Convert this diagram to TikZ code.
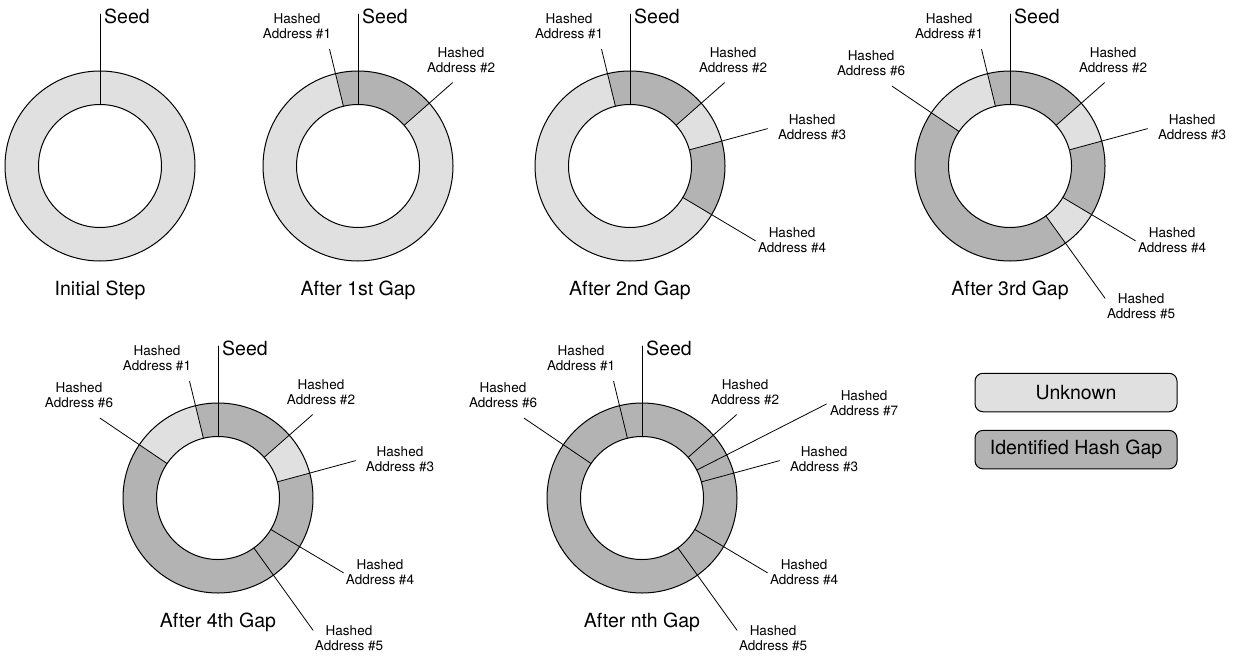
\documentclass[tikz,border=0pt]{standalone}
\usepackage{fontspec}
\setmainfont{TeX Gyre Heros}
\usepackage{tikz}
\usetikzlibrary{positioning}
\definecolor{eqeqeq}{rgb}{0.8784313725490196,0.8784313725490196,0.8784313725490196}
\definecolor{b3b3b3}{rgb}{0.7019607843137254,0.7019607843137254,0.7019607843137254}
\tikzstyle{every node}=[inner sep=0pt]
\tikzstyle{addr}=[font=\fontsize{13.5}{15}\selectfont, align=center]
\tikzstyle{big}=[font=\fontsize{19.5}{22}\selectfont]
\tikzstyle{ring}=[line width=1pt]
\tikzstyle{lead}=[line width=0.8pt]
\tikzstyle{keybox}=[draw, line width=1pt, rounded corners=8pt, minimum width=202pt, minimum height=38.5pt, font=\fontsize{19.5}{22}\selectfont]

\begin{document}
\begin{tikzpicture}[line cap=round,line join=round,x=1pt,y=1pt]
            \clip(0,-656) rectangle (1233,0);
            % Initial Step
            \begin{scope}[shift={(100,-166)}]
            \fill [eqeqeq,even odd rule] (0,0) circle (95) (0,0) circle (61.5);
            \draw [ring] (0,0) circle (95) (0,0) circle (61.5);
            \coordinate (s1) at (90:61.5); \coordinate (s1x) at (90:152);
            \draw [lead] (s1) -- (s1x);
            \node [big,anchor=west] (seed1) at (4,150) {Seed};
            \node [big] (title1) at (0,-124) {Initial Step};
            \end{scope}
            % After 1st Gap
            \begin{scope}[shift={(358,-166)}]
            \fill [eqeqeq,even odd rule] (0,0) circle (95) (0,0) circle (61.5);
            \fill [b3b3b3] (103.7:95) arc [start angle=103.7,end angle=41.4,radius=95] -- (41.4:61.5) arc [start angle=41.4,end angle=103.7,radius=61.5] -- cycle;
            \draw [ring] (0,0) circle (95) (0,0) circle (61.5);
            \coordinate (s2) at (90:61.5); \coordinate (s2x) at (90:152);
            \coordinate (a21) at (103.7:61.5); \coordinate (a21x) at (103.7:120);
            \coordinate (a22) at (41.4:61.5); \coordinate (a22x) at (41.4:126);
            \draw [lead] (s2) -- (s2x);
            \draw [lead] (a21) -- (a21x);
            \draw [lead] (a22) -- (a22x);
            \node [big,anchor=west] (seed2) at (4,150) {Seed};
            \node [addr] (h21) at (-61,140) {Hashed\\Address \#1};
            \node [addr] (h22) at (103,106) {Hashed\\Address \#2};
            \node [big] (title2) at (0,-124) {After 1st Gap};
            \end{scope}
            % After 2nd Gap
            \begin{scope}[shift={(630,-166)}]
            \fill [eqeqeq,even odd rule] (0,0) circle (95) (0,0) circle (61.5);
            \fill [b3b3b3] (103.7:95) arc [start angle=103.7,end angle=41.4,radius=95] -- (41.4:61.5) arc [start angle=41.4,end angle=103.7,radius=61.5] -- cycle;
            \fill [b3b3b3] (15.2:95) arc [start angle=15.2,end angle=-30.8,radius=95] -- (-30.8:61.5) arc [start angle=-30.8,end angle=15.2,radius=61.5] -- cycle;
            \draw [ring] (0,0) circle (95) (0,0) circle (61.5);
            \coordinate (s3) at (90:61.5); \coordinate (s3x) at (90:152);
            \coordinate (a31) at (103.7:61.5); \coordinate (a31x) at (103.7:120);
            \coordinate (a32) at (41.4:61.5); \coordinate (a32x) at (41.4:126);
            \coordinate (a33) at (15.2:61.5); \coordinate (a33x) at (15.2:142.5);
            \coordinate (a34) at (-30.8:61.5); \coordinate (a34x) at (-30.8:146);
            \draw [lead] (s3) -- (s3x);
            \draw [lead] (a31) -- (a31x);
            \draw [lead] (a32) -- (a32x);
            \draw [lead] (a33) -- (a33x);
            \draw [lead] (a34) -- (a34x);
            \node [big,anchor=west] (seed3) at (4,150) {Seed};
            \node [addr] (h31) at (-61,140) {Hashed\\Address \#1};
            \node [addr] (h32) at (103,106) {Hashed\\Address \#2};
            \node [addr] (h33) at (182,39) {Hashed\\Address \#3};
            \node [addr] (h34) at (162,-74) {Hashed\\Address \#4};
            \node [big] (title3) at (0,-124) {After 2nd Gap};
            \end{scope}
            % After 3rd Gap
            \begin{scope}[shift={(1010,-166)}]
            \fill [b3b3b3,even odd rule] (0,0) circle (95) (0,0) circle (61.5);
            \fill [eqeqeq] (41.4:95) arc [start angle=41.4,end angle=15.2,radius=95] -- (15.2:61.5) arc [start angle=15.2,end angle=41.4,radius=61.5] -- cycle;
            \fill [eqeqeq] (-30.8:95) arc [start angle=-30.8,end angle=-54.3,radius=95] -- (-54.3:61.5) arc [start angle=-54.3,end angle=-30.8,radius=61.5] -- cycle;
            \fill [eqeqeq] (145.9:95) arc [start angle=145.9,end angle=103.7,radius=95] -- (103.7:61.5) arc [start angle=103.7,end angle=145.9,radius=61.5] -- cycle;
            \draw [ring] (0,0) circle (95) (0,0) circle (61.5);
            \coordinate (s4) at (90:61.5); \coordinate (s4x) at (90:152);
            \coordinate (a41) at (103.7:61.5); \coordinate (a41x) at (103.7:120);
            \coordinate (a42) at (41.4:61.5); \coordinate (a42x) at (41.4:126);
            \coordinate (a43) at (15.2:61.5); \coordinate (a43x) at (15.2:142.5);
            \coordinate (a44) at (-30.8:61.5); \coordinate (a44x) at (-30.8:146);
            \coordinate (a45) at (-54.3:61.5); \coordinate (a45x) at (-54.3:163);
            \coordinate (a46) at (145.9:61.5); \coordinate (a46x) at (145.9:142.5);
            \draw [lead] (s4) -- (s4x);
            \draw [lead] (a41) -- (a41x);
            \draw [lead] (a42) -- (a42x);
            \draw [lead] (a43) -- (a43x);
            \draw [lead] (a44) -- (a44x);
            \draw [lead] (a45) -- (a45x);
            \draw [lead] (a46) -- (a46x);
            \node [big,anchor=west] (seed4) at (4,150) {Seed};
            \node [addr] (h41) at (-61,140) {Hashed\\Address \#1};
            \node [addr] (h42) at (103,106) {Hashed\\Address \#2};
            \node [addr] (h43) at (182,39) {Hashed\\Address \#3};
            \node [addr] (h44) at (162,-74) {Hashed\\Address \#4};
            \node [addr] (h45) at (131,-140.5) {Hashed\\Address \#5};
            \node [addr] (h46) at (-139,102.5) {Hashed\\Address \#6};
            \node [big] (title4) at (0,-124) {After 3rd Gap};
            \end{scope}
            % After 4th Gap
            \begin{scope}[shift={(218,-498)}]
            \fill [b3b3b3,even odd rule] (0,0) circle (95) (0,0) circle (61.5);
            \fill [eqeqeq] (41.4:95) arc [start angle=41.4,end angle=15.2,radius=95] -- (15.2:61.5) arc [start angle=15.2,end angle=41.4,radius=61.5] -- cycle;
            \fill [eqeqeq] (145.9:95) arc [start angle=145.9,end angle=103.7,radius=95] -- (103.7:61.5) arc [start angle=103.7,end angle=145.9,radius=61.5] -- cycle;
            \draw [ring] (0,0) circle (95) (0,0) circle (61.5);
            \coordinate (s5) at (90:61.5); \coordinate (s5x) at (90:152);
            \coordinate (a51) at (103.7:61.5); \coordinate (a51x) at (103.7:120);
            \coordinate (a52) at (41.4:61.5); \coordinate (a52x) at (41.4:126);
            \coordinate (a53) at (15.2:61.5); \coordinate (a53x) at (15.2:142.5);
            \coordinate (a54) at (-30.8:61.5); \coordinate (a54x) at (-30.8:146);
            \coordinate (a55) at (-54.3:61.5); \coordinate (a55x) at (-54.3:163);
            \coordinate (a56) at (145.9:61.5); \coordinate (a56x) at (145.9:142.5);
            \draw [lead] (s5) -- (s5x);
            \draw [lead] (a51) -- (a51x);
            \draw [lead] (a52) -- (a52x);
            \draw [lead] (a53) -- (a53x);
            \draw [lead] (a54) -- (a54x);
            \draw [lead] (a55) -- (a55x);
            \draw [lead] (a56) -- (a56x);
            \node [big,anchor=west] (seed5) at (4,150) {Seed};
            \node [addr] (h51) at (-61,140) {Hashed\\Address \#1};
            \node [addr] (h52) at (103,106) {Hashed\\Address \#2};
            \node [addr] (h53) at (182,39) {Hashed\\Address \#3};
            \node [addr] (h54) at (162,-74) {Hashed\\Address \#4};
            \node [addr] (h55) at (131,-140.5) {Hashed\\Address \#5};
            \node [addr] (h56) at (-139,102.5) {Hashed\\Address \#6};
            \node [big] (title5) at (0,-124) {After 4th Gap};
            \end{scope}
            % After nth Gap
            \begin{scope}[shift={(642,-498)}]
            \fill [b3b3b3,even odd rule] (0,0) circle (95) (0,0) circle (61.5);
            \draw [ring] (0,0) circle (95) (0,0) circle (61.5);
            \coordinate (s6) at (90:61.5); \coordinate (s6x) at (90:152);
            \coordinate (a61) at (103.7:61.5); \coordinate (a61x) at (103.7:120);
            \coordinate (a62) at (41.4:61.5); \coordinate (a62x) at (41.4:126);
            \coordinate (a63) at (15.2:61.5); \coordinate (a63x) at (15.2:142.5);
            \coordinate (a64) at (-30.8:61.5); \coordinate (a64x) at (-30.8:146);
            \coordinate (a65) at (-54.3:61.5); \coordinate (a65x) at (-54.3:163);
            \coordinate (a66) at (145.9:61.5); \coordinate (a66x) at (145.9:142.5);
            \coordinate (a67) at (27:61.5); \coordinate (a67x) at (27:207);
            \draw [lead] (s6) -- (s6x);
            \draw [lead] (a61) -- (a61x);
            \draw [lead] (a62) -- (a62x);
            \draw [lead] (a63) -- (a63x);
            \draw [lead] (a64) -- (a64x);
            \draw [lead] (a65) -- (a65x);
            \draw [lead] (a66) -- (a66x);
            \draw [lead] (a67) -- (a67x);
            \node [big,anchor=west] (seed6) at (4,150) {Seed};
            \node [addr] (h61) at (-61,140) {Hashed\\Address \#1};
            \node [addr] (h62) at (103,106) {Hashed\\Address \#2};
            \node [addr] (h63) at (182,39) {Hashed\\Address \#3};
            \node [addr] (h64) at (162,-74) {Hashed\\Address \#4};
            \node [addr] (h65) at (131,-140.5) {Hashed\\Address \#5};
            \node [addr] (h66) at (-139,102.5) {Hashed\\Address \#6};
            \node [addr] (h67) at (222,95) {Hashed\\Address \#7};
            \node [big] (title6) at (0,-124) {After nth Gap};
            \end{scope}
            % legend
            \node [keybox,fill=eqeqeq] (unknown) at (1076,-392.5) {Unknown};
            \node [keybox,fill=b3b3b3,below=17.6pt of unknown] (gapkey) {Identified Hash Gap};
\end{tikzpicture}
\end{document}
